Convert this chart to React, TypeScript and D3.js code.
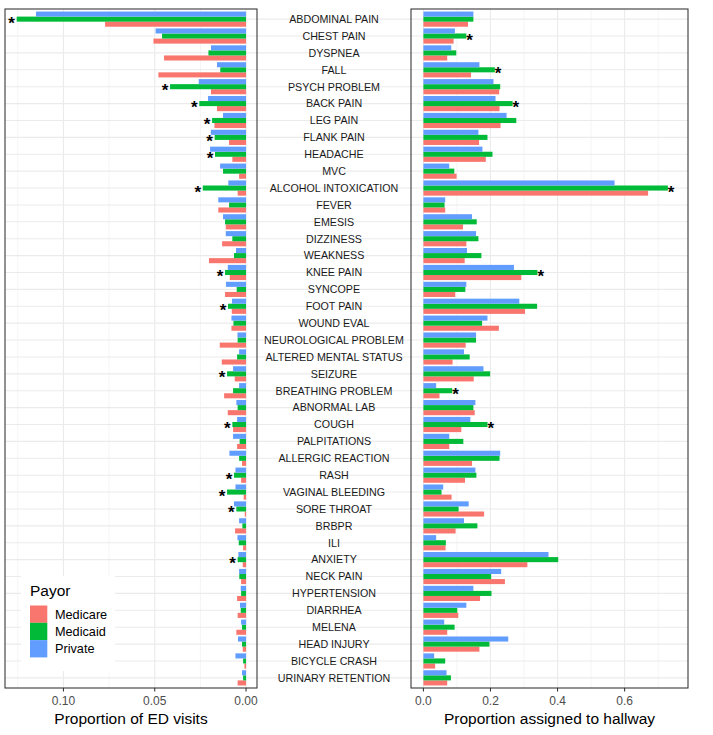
import React from 'react';
import * as d3 from 'd3';

const categories = [
  'ABDOMINAL PAIN', 'CHEST PAIN', 'DYSPNEA', 'FALL', 'PSYCH PROBLEM', 'BACK PAIN', 'LEG PAIN',
  'FLANK PAIN', 'HEADACHE', 'MVC', 'ALCOHOL INTOXICATION', 'FEVER', 'EMESIS', 'DIZZINESS',
  'WEAKNESS', 'KNEE PAIN', 'SYNCOPE', 'FOOT PAIN', 'WOUND EVAL', 'NEUROLOGICAL PROBLEM',
  'ALTERED MENTAL STATUS', 'SEIZURE', 'BREATHING PROBLEM', 'ABNORMAL LAB', 'COUGH',
  'PALPITATIONS', 'ALLERGIC REACTION', 'RASH', 'VAGINAL BLEEDING', 'SORE THROAT', 'BRBPR',
  'ILI', 'ANXIETY', 'NECK PAIN', 'HYPERTENSION', 'DIARRHEA', 'MELENA', 'HEAD INJURY',
  'BICYCLE CRASH', 'URINARY RETENTION',
];

// Proportion of ED visits
const medicareED = [
  0.0772, 0.0507, 0.0449, 0.048, 0.0192, 0.0159, 0.0173, 0.0093, 0.0075, 0.0038,
  0.0046, 0.0152, 0.0111, 0.0131, 0.0203, 0.0089, 0.0115, 0.0078, 0.008, 0.0144,
  0.0133, 0.0062, 0.012, 0.01, 0.0071, 0.0049, 0.0022, 0.0027, 0.0013, 0.0007,
  0.006, 0.0016, 0.0018, 0.0027, 0.0049, 0.0046, 0.0053, 0.0018, 0.0009, 0.0046,
];
const medicaidED = [
  0.1256, 0.046, 0.0206, 0.0141, 0.0416, 0.0256, 0.0186, 0.0172, 0.017, 0.0126,
  0.0237, 0.0093, 0.0115, 0.0075, 0.0066, 0.0115, 0.0051, 0.0099, 0.0069, 0.0046,
  0.0049, 0.0104, 0.0071, 0.0046, 0.0075, 0.0035, 0.0038, 0.0066, 0.0104, 0.0053,
  0.002, 0.004, 0.0046, 0.0037, 0.0027, 0.0029, 0.0022, 0.0022, 0.0016, 0.0016,
];
const privateED = [
  0.115, 0.0495, 0.0192, 0.0159, 0.0259, 0.0208, 0.0126, 0.0193, 0.0197, 0.0142,
  0.0097, 0.0152, 0.0126, 0.0111, 0.0055, 0.01, 0.011, 0.0077, 0.008, 0.0047,
  0.0038, 0.0071, 0.0038, 0.0053, 0.0049, 0.0071, 0.0091, 0.0058, 0.0058, 0.0066,
  0.0038, 0.0047, 0.0042, 0.0038, 0.0029, 0.0033, 0.0027, 0.0044, 0.0058, 0.0022,
];

// Proportion assigned to hallway
const medicareHall = [
  0.133, 0.09, 0.071, 0.142, 0.226, 0.227, 0.23, 0.166, 0.186, 0.099,
  0.67, 0.065, 0.118, 0.128, 0.123, 0.292, 0.095, 0.303, 0.225, 0.126,
  0.087, 0.15, 0.048, 0.153, 0.113, 0.077, 0.145, 0.124, 0.084, 0.181,
  0.096, 0.066, 0.31, 0.243, 0.169, 0.104, 0.071, 0.167, 0.035, 0.071,
];
const medicaidHall = [
  0.149, 0.128, 0.098, 0.213, 0.229, 0.266, 0.277, 0.191, 0.206, 0.092,
  0.729, 0.063, 0.159, 0.164, 0.173, 0.34, 0.125, 0.339, 0.175, 0.157,
  0.138, 0.199, 0.086, 0.149, 0.191, 0.119, 0.227, 0.158, 0.054, 0.105,
  0.161, 0.067, 0.402, 0.202, 0.203, 0.101, 0.093, 0.197, 0.065, 0.082,
];
const privateHall = [
  0.149, 0.094, 0.083, 0.167, 0.209, 0.215, 0.248, 0.164, 0.176, 0.077,
  0.57, 0.065, 0.145, 0.157, 0.13, 0.27, 0.128, 0.286, 0.191, 0.157,
  0.121, 0.179, 0.038, 0.155, 0.14, 0.077, 0.229, 0.155, 0.059, 0.135,
  0.121, 0.038, 0.373, 0.232, 0.149, 0.128, 0.062, 0.253, 0.032, 0.069,
];

const sigED = [
  'ABDOMINAL PAIN', 'PSYCH PROBLEM', 'BACK PAIN', 'LEG PAIN', 'FLANK PAIN', 'HEADACHE',
  'ALCOHOL INTOXICATION', 'KNEE PAIN', 'FOOT PAIN', 'SEIZURE', 'COUGH', 'RASH',
  'VAGINAL BLEEDING', 'SORE THROAT', 'ANXIETY',
];
const sigHall = ['CHEST PAIN', 'FALL', 'BACK PAIN', 'ALCOHOL INTOXICATION', 'KNEE PAIN', 'BREATHING PROBLEM', 'COUGH'];

const payors = ['Medicare', 'Medicaid', 'Private'];
const payorColors = ['#F8766D', '#00BA38', '#619CFF'];

const leftTicks = [0.1, 0.05, 0.0];
const leftTickLabels = ['0.10', '0.05', '0.00'];
const leftMinor = [0.125, 0.075, 0.025];
const rightTicks = [0, 0.2, 0.4, 0.6];
const rightTickLabels = ['0.0', '0.2', '0.4', '0.6'];
const rightMinor = [0.1, 0.3, 0.5, 0.7];

const FONT = '"Liberation Sans", Arial, Helvetica, sans-serif';

export default function App() {
  const top = 9;
  const bottom = 688;
  const L = { x0: 5, x1: 257 };
  const R = { x0: 411, x1: 688 };

  const xL = d3.scaleLinear().domain([0.132, -0.006]).range([L.x0, L.x1]);
  const xR = d3.scaleLinear().domain([-0.037, 0.789]).range([R.x0, R.x1]);
  const y = d3.scalePoint<string>().domain(categories).range([top, bottom]).padding(0.6);
  const step = y.step();
  const bh = (step * 0.9) / 3;

  const edSeries = [medicareED, medicaidED, privateED];
  const hallSeries = [medicareHall, medicaidHall, privateHall];
  // dodge offsets: Medicare bottom, Medicaid middle, Private top
  const offsets = [1, 0, -1];

  const grid = '#ebebeb';
  const border = '#333333';

  return (
    <svg width={713} height={735} style={{ position: 'absolute', left: 0, top: 0, background: '#fff' }} fontFamily={FONT}>
      <rect x={0} y={0} width={713} height={735} fill="#fff" />

      {/* center gridlines */}
      {categories.map((c) => (
        <line key={'cg' + c} x1={L.x1} x2={R.x0} y1={y(c)} y2={y(c)} stroke={grid} strokeWidth={1.1} />
      ))}

      {/* LEFT PANEL */}
      <g>
        {leftMinor.map((v) => (
          <line key={'lm' + v} x1={xL(v)} x2={xL(v)} y1={top} y2={bottom} stroke={grid} strokeWidth={0.55} />
        ))}
        {leftTicks.map((v) => (
          <line key={'lt' + v} x1={xL(v)} x2={xL(v)} y1={top} y2={bottom} stroke={grid} strokeWidth={1.1} />
        ))}
        {categories.map((c) => (
          <line key={'lh' + c} x1={L.x0} x2={L.x1} y1={y(c)} y2={y(c)} stroke={grid} strokeWidth={1.1} />
        ))}
        {edSeries.map((s, si) =>
          s.map((v, i) => {
            const cy = (y(categories[i]) as number) + offsets[si] * bh - bh / 2;
            return (
              <rect key={'lb' + si + '-' + i} x={xL(v)} y={cy} width={xL(0) - xL(v)} height={bh} fill={payorColors[si]} />
            );
          })
        )}
        {categories.map((c, i) =>
          sigED.includes(c) ? (
            <text key={'ls' + c} x={xL(medicaidED[i]) - 5} y={(y(c) as number) + 9.5} textAnchor="middle" fontSize={17} fontWeight="bold" fill="#000">
              *
            </text>
          ) : null
        )}
        {/* legend */}
        <rect x={21} y={576} width={94} height={95} fill="#fff" />
        <text x={30} y={596} fontSize={15.5} fill="#000">Payor</text>
        {payors.map((p, i) => (
          <g key={'lg' + p}>
            <rect x={30} y={605.5 + i * 17.3} width={17.3} height={17.3} fill={payorColors[i]} />
            <text x={55} y={605.5 + i * 17.3 + 8.65} dy="0.35em" fontSize={12.7} fill="#000">{p}</text>
          </g>
        ))}
        <rect x={L.x0} y={top} width={L.x1 - L.x0} height={bottom - top} fill="none" stroke={border} strokeWidth={1.07} />
        {leftTicks.map((v, i) => (
          <g key={'ltk' + v}>
            <line x1={xL(v)} x2={xL(v)} y1={bottom} y2={bottom + 3.5} stroke={border} strokeWidth={1.07} />
            <text x={xL(v)} y={704.5} textAnchor="middle" fontSize={12} fill="#4d4d4d">{leftTickLabels[i]}</text>
          </g>
        ))}
        <text x={(L.x0 + L.x1) / 2} y={724} textAnchor="middle" fontSize={15.5} fill="#000">Proportion of ED visits</text>
      </g>

      {/* category labels */}
      {categories.map((c) => (
        <text key={'cl' + c} x={(L.x1 + R.x0) / 2} y={y(c)} dy="0.36em" textAnchor="middle" fontSize={10.7} fill="#1a1a1a">
          {c}
        </text>
      ))}

      {/* RIGHT PANEL */}
      <g>
        {rightMinor.map((v) => (
          <line key={'rm' + v} x1={xR(v)} x2={xR(v)} y1={top} y2={bottom} stroke={grid} strokeWidth={0.55} />
        ))}
        {rightTicks.map((v) => (
          <line key={'rt' + v} x1={xR(v)} x2={xR(v)} y1={top} y2={bottom} stroke={grid} strokeWidth={1.1} />
        ))}
        {categories.map((c) => (
          <line key={'rh' + c} x1={R.x0} x2={R.x1} y1={y(c)} y2={y(c)} stroke={grid} strokeWidth={1.1} />
        ))}
        {hallSeries.map((s, si) =>
          s.map((v, i) => {
            const cy = (y(categories[i]) as number) + offsets[si] * bh - bh / 2;
            return (
              <rect key={'rb' + si + '-' + i} x={xR(0)} y={cy} width={xR(v) - xR(0)} height={bh} fill={payorColors[si]} />
            );
          })
        )}
        {categories.map((c, i) =>
          sigHall.includes(c) ? (
            <text key={'rs' + c} x={xR(medicaidHall[i]) + 3.3} y={(y(c) as number) + 9.5} textAnchor="middle" fontSize={17} fontWeight="bold" fill="#000">
              *
            </text>
          ) : null
        )}
        <rect x={R.x0} y={top} width={R.x1 - R.x0} height={bottom - top} fill="none" stroke={border} strokeWidth={1.07} />
        {rightTicks.map((v, i) => (
          <g key={'rtk' + v}>
            <line x1={xR(v)} x2={xR(v)} y1={bottom} y2={bottom + 3.5} stroke={border} strokeWidth={1.07} />
            <text x={xR(v)} y={704.5} textAnchor="middle" fontSize={12} fill="#4d4d4d">{rightTickLabels[i]}</text>
          </g>
        ))}
        <text x={(R.x0 + R.x1) / 2} y={724} textAnchor="middle" fontSize={15.5} fill="#000">Proportion assigned to hallway</text>
      </g>
    </svg>
  );
}
